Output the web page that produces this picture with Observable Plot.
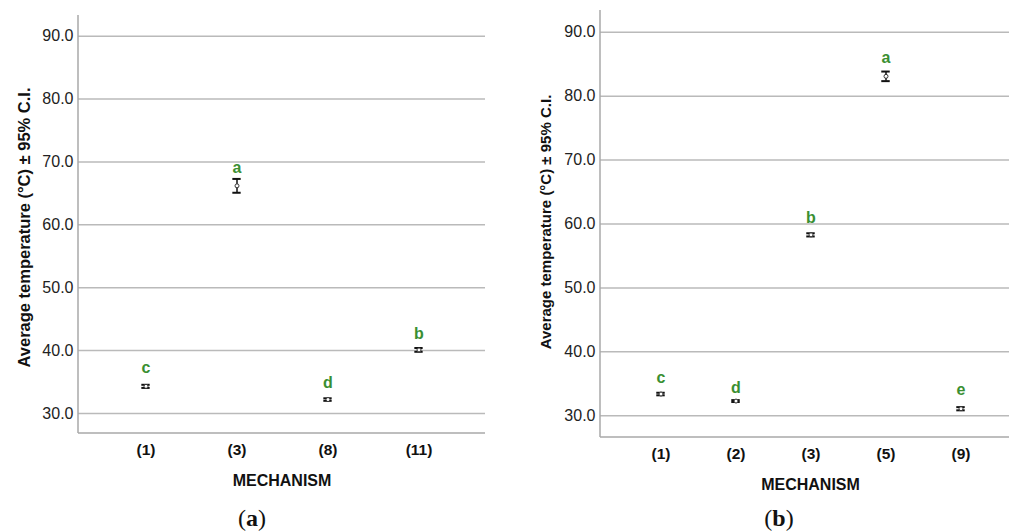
<!DOCTYPE html>
<html>
<head>
<meta charset="utf-8">
<script src="https://cdn.jsdelivr.net/npm/d3@7"></script>
<script src="https://cdn.jsdelivr.net/npm/@observablehq/plot@0.6"></script>
<style>
  html, body { margin: 0; padding: 0; background: #fff; overflow: hidden; width: 1009px; height: 532px; }
  #wrap { position: relative; width: 1009px; height: 532px; overflow: hidden; }
  .panel { position: absolute; top: 0; }
  .panel svg { max-width: none !important; }
  .cap { position: absolute; font-family: "Liberation Serif", "Times New Roman", serif; font-size: 24px; line-height: 24px; color: #111; transform: translate(-50%, -50%); white-space: nowrap; }
</style>
</head>
<body>
<div id="wrap">
  <div class="panel" id="pa" style="left:0px; width:500px"></div>
  <div class="panel" id="pb" style="left:500px; width:530px"></div>
  <div class="cap" style="left:252px; top:518px">(<b>a</b>)</div>
  <div class="cap" style="left:779px; top:518px">(<b>b</b>)</div>
</div>
<script>
// ---- Panel (a) data ----
const catsA = ["(1)", "(3)", "(8)", "(11)"];
const meanA = [34.3, 66.2, 32.2, 40.1];
const ciA = [0.25, 1.1, 0.2, 0.3];
const lettersA = ["c", "a", "d", "b"];
const letterYA = [37.3, 69.1, 34.8, 42.7];

// ---- Panel (b) data ----
const catsB = ["(1)", "(2)", "(3)", "(5)", "(9)"];
const meanB = [33.4, 32.3, 58.3, 83.1, 31.1];
const ciB = [0.2, 0.15, 0.25, 0.75, 0.25];
const lettersB = ["c", "d", "b", "a", "e"];
const letterYB = [36.0, 34.4, 60.9, 86.0, 34.0];

// ---- shared tick labels ----
const yTicks = [30, 40, 50, 60, 70, 80, 90];
const yLabel = "Average temperature (°C) ± 95% C.I.";
const xLabel = "MECHANISM";

const GREEN = "#3a8f32";
const GRID = "#bababa";
const AXIS = "#a8a8a8";
const CAP = 9;
const fmt = d3.format(".1f");

function panel(o) {
  const data = o.cats.map((c, i) => ({
    c, m: o.mean[i], lo: o.mean[i] - o.ci[i], hi: o.mean[i] + o.ci[i],
    L: o.letters[i], ly: o.letterY[i]
  }));
  const step = (o.width - o.ml - o.mr) / (o.cats.length + 2 * o.po);
  const inset = (step - CAP) / 2;
  const axisLines = (index, scales, values, dims) => {
    const g = d3.create("svg:g");
    const x0 = dims.marginLeft, x1 = dims.width - dims.marginRight;
    const y0 = dims.marginTop, y1 = dims.height - dims.marginBottom;
    g.append("line").attr("x1", x0).attr("x2", x0).attr("y1", y0).attr("y2", y1)
      .attr("stroke", AXIS).attr("stroke-width", 1.5);
    g.append("line").attr("x1", x0).attr("x2", x1).attr("y1", y1).attr("y2", y1)
      .attr("stroke", AXIS).attr("stroke-width", 1.5);
    return g.node();
  };
  return Plot.plot({
    width: o.width, height: o.height,
    marginLeft: o.ml, marginRight: o.mr, marginTop: o.mt, marginBottom: o.mb,
    style: { fontFamily: "'Liberation Sans', Arial, sans-serif", fontSize: "16px", color: "#222", background: "transparent", overflow: "visible", maxWidth: "none" },
    x: { type: "band", domain: o.cats, paddingInner: 0, paddingOuter: o.po, axis: null },
    y: { domain: o.ydom, axis: null },
    marks: [
      Plot.ruleY(yTicks, { stroke: GRID, strokeWidth: 1.5 }),
      axisLines,
      // y tick labels
      Plot.text(yTicks, { y: d => d, text: d => fmt(d), frameAnchor: "left", textAnchor: "end", lineAnchor: "middle", dx: -5, fontSize: 16, fill: "#222" }),
      // x tick labels
      Plot.text(o.cats, { x: d => d, text: d => d, frameAnchor: "bottom", lineAnchor: "top", dy: 10, fontSize: 15.5, fontWeight: "bold", fill: "#111" }),
      Plot.text([xLabel], { text: d => d, frameAnchor: "bottom", lineAnchor: "middle", dy: o.xlabDy, fontSize: 16, fontWeight: "bold", fill: "#111" }),
      Plot.text([yLabel], { text: d => d, frameAnchor: "left", textAnchor: "middle", lineAnchor: "middle", rotate: -90, dx: o.ylabDx, dy: o.ylabDy, fontSize: o.ylabSize, fontWeight: "bold", fill: "#111" }),
      Plot.ruleX(data, { x: "c", y1: "lo", y2: "hi", stroke: "#111", strokeWidth: 1.5 }),
      Plot.tickY(data, { x: "c", y: "lo", stroke: "#111", strokeWidth: 2, insetLeft: inset, insetRight: inset }),
      Plot.tickY(data, { x: "c", y: "hi", stroke: "#111", strokeWidth: 2, insetLeft: inset, insetRight: inset }),
      Plot.dot(data, { x: "c", y: "m", r: 2, fill: "#fff", stroke: "#333", strokeWidth: 1 }),
      Plot.text(data, { x: "c", y: "ly", text: "L", fill: GREEN, fontSize: 16, fontWeight: "bold" })
    ]
  });
}

document.getElementById("pa").appendChild(panel({
  cats: catsA, mean: meanA, ci: ciA, letters: lettersA, letterY: letterYA,
  width: 500, height: 500, ml: 78, mr: 15, mt: 15, mb: 67, ydom: [26.8, 93.3], po: 0.22,
  xlabDy: 47, ylabDx: -54, ylabDy: 3, ylabSize: 16.5
}));

document.getElementById("pb").appendChild(panel({
  cats: catsB, mean: meanB, ci: ciB, letters: lettersB, letterY: letterYB,
  width: 530, height: 500, ml: 100, mr: 10, mt: 10, mb: 63, ydom: [26.6, 93.4], po: 0.28,
  xlabDy: 47, ylabDx: -54, ylabDy: -2, ylabSize: 15
}));
</script>
</body>
</html>
